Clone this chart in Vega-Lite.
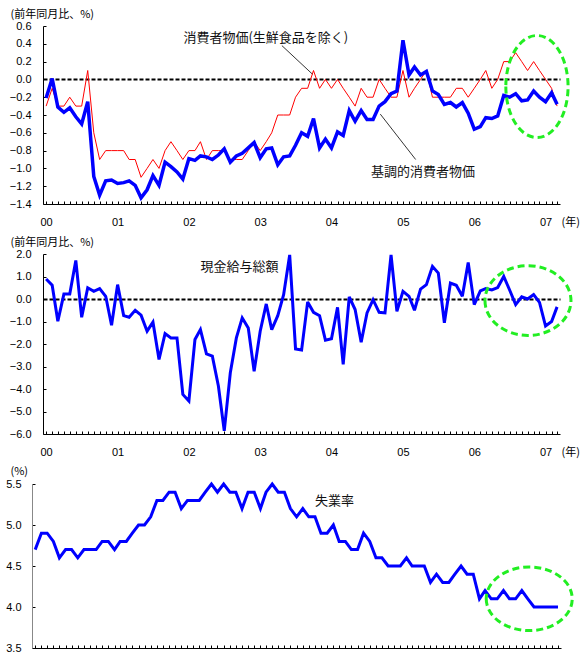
{
  "$schema": "https://vega.github.io/schema/vega-lite/v6.json",
  "background": "white",
  "padding": {"left": 5, "top": 8, "right": 0, "bottom": 0},
  "spacing": 50,
  "bounds": "flush",
  "config": {
    "view": {"stroke": null},
    "axis": {
      "labelFont": "Liberation Sans", "labelFontSize": 11, "labelColor": "#000",
      "domainColor": "#000", "domainWidth": 1, "tickColor": "#000", "tickWidth": 1,
      "titleFont": "Noto Sans CJK JP", "titleFontSize": 11, "titleFontWeight": "normal", "titleColor": "#000",
      "grid": false
    }
  },
  "datasets": {
    "monthly": [
      {"date": "2000-01-01", "core": -0.3, "trend": -0.21, "wage": 0.89, "unemp": 4.7},
      {"date": "2000-02-01", "core": -0.1, "trend": 0.01, "wage": 0.61, "unemp": 4.9},
      {"date": "2000-03-01", "core": -0.3, "trend": -0.31, "wage": -0.99, "unemp": 4.9},
      {"date": "2000-04-01", "core": -0.3, "trend": -0.37, "wage": 0.22, "unemp": 4.8},
      {"date": "2000-05-01", "core": -0.2, "trend": -0.32, "wage": 0.22, "unemp": 4.6},
      {"date": "2000-06-01", "core": -0.3, "trend": -0.42, "wage": 1.71, "unemp": 4.7},
      {"date": "2000-07-01", "core": -0.3, "trend": -0.5, "wage": -0.81, "unemp": 4.7},
      {"date": "2000-08-01", "core": 0.1, "trend": -0.25, "wage": 0.5, "unemp": 4.6},
      {"date": "2000-09-01", "core": -0.6, "trend": -1.09, "wage": 0.34, "unemp": 4.7},
      {"date": "2000-10-01", "core": -0.9, "trend": -1.3, "wage": 0.46, "unemp": 4.7},
      {"date": "2000-11-01", "core": -0.8, "trend": -1.14, "wage": 0.12, "unemp": 4.7},
      {"date": "2000-12-01", "core": -0.8, "trend": -1.13, "wage": -1.17, "unemp": 4.8},
      {"date": "2001-01-01", "core": -0.8, "trend": -1.17, "wage": 0.64, "unemp": 4.8},
      {"date": "2001-02-01", "core": -0.8, "trend": -1.16, "wage": -0.74, "unemp": 4.7},
      {"date": "2001-03-01", "core": -0.9, "trend": -1.14, "wage": -0.81, "unemp": 4.8},
      {"date": "2001-04-01", "core": -0.9, "trend": -1.19, "wage": -0.5, "unemp": 4.8},
      {"date": "2001-05-01", "core": -1.1, "trend": -1.33, "wage": -0.72, "unemp": 4.9},
      {"date": "2001-06-01", "core": -1.0, "trend": -1.24, "wage": -1.43, "unemp": 5.0},
      {"date": "2001-07-01", "core": -0.9, "trend": -1.08, "wage": -1.03, "unemp": 5.0},
      {"date": "2001-08-01", "core": -1.0, "trend": -1.19, "wage": -2.69, "unemp": 5.1},
      {"date": "2001-09-01", "core": -0.8, "trend": -0.93, "wage": -1.54, "unemp": 5.3},
      {"date": "2001-10-01", "core": -0.7, "trend": -0.98, "wage": -1.73, "unemp": 5.3},
      {"date": "2001-11-01", "core": -0.8, "trend": -1.04, "wage": -1.73, "unemp": 5.4},
      {"date": "2001-12-01", "core": -0.9, "trend": -1.12, "wage": -4.24, "unemp": 5.4},
      {"date": "2002-01-01", "core": -0.8, "trend": -0.89, "wage": -4.53, "unemp": 5.2},
      {"date": "2002-02-01", "core": -0.8, "trend": -0.91, "wage": -1.8, "unemp": 5.3},
      {"date": "2002-03-01", "core": -0.7, "trend": -0.86, "wage": -1.36, "unemp": 5.3},
      {"date": "2002-04-01", "core": -0.9, "trend": -0.87, "wage": -2.44, "unemp": 5.3},
      {"date": "2002-05-01", "core": -0.8, "trend": -0.9, "wage": -2.54, "unemp": 5.4},
      {"date": "2002-06-01", "core": -0.8, "trend": -0.85, "wage": -3.87, "unemp": 5.5},
      {"date": "2002-07-01", "core": -0.8, "trend": -0.78, "wage": -5.86, "unemp": 5.4},
      {"date": "2002-08-01", "core": -0.9, "trend": -0.93, "wage": -3.28, "unemp": 5.5},
      {"date": "2002-09-01", "core": -0.9, "trend": -0.86, "wage": -1.73, "unemp": 5.4},
      {"date": "2002-10-01", "core": -0.9, "trend": -0.83, "wage": -0.84, "unemp": 5.4},
      {"date": "2002-11-01", "core": -0.8, "trend": -0.77, "wage": -1.29, "unemp": 5.2},
      {"date": "2002-12-01", "core": -0.7, "trend": -0.71, "wage": -3.21, "unemp": 5.4},
      {"date": "2003-01-01", "core": -0.8, "trend": -0.88, "wage": -1.43, "unemp": 5.4},
      {"date": "2003-02-01", "core": -0.7, "trend": -0.78, "wage": -0.22, "unemp": 5.2},
      {"date": "2003-03-01", "core": -0.6, "trend": -0.77, "wage": -1.36, "unemp": 5.4},
      {"date": "2003-04-01", "core": -0.4, "trend": -0.96, "wage": -0.74, "unemp": 5.5},
      {"date": "2003-05-01", "core": -0.4, "trend": -0.87, "wage": 0.19, "unemp": 5.4},
      {"date": "2003-06-01", "core": -0.4, "trend": -0.86, "wage": 1.96, "unemp": 5.4},
      {"date": "2003-07-01", "core": -0.2, "trend": -0.74, "wage": -2.22, "unemp": 5.2},
      {"date": "2003-08-01", "core": -0.1, "trend": -0.6, "wage": -2.27, "unemp": 5.1},
      {"date": "2003-09-01", "core": -0.1, "trend": -0.64, "wage": -0.13, "unemp": 5.2},
      {"date": "2003-10-01", "core": 0.1, "trend": -0.44, "wage": -0.59, "unemp": 5.1},
      {"date": "2003-11-01", "core": -0.1, "trend": -0.77, "wage": -0.74, "unemp": 5.1},
      {"date": "2003-12-01", "core": 0.0, "trend": -0.67, "wage": -1.83, "unemp": 4.9},
      {"date": "2004-01-01", "core": -0.1, "trend": -0.77, "wage": -1.77, "unemp": 4.9},
      {"date": "2004-02-01", "core": 0.0, "trend": -0.59, "wage": -0.37, "unemp": 5.0},
      {"date": "2004-03-01", "core": -0.1, "trend": -0.63, "wage": -2.91, "unemp": 4.8},
      {"date": "2004-04-01", "core": -0.2, "trend": -0.35, "wage": 0.09, "unemp": 4.8},
      {"date": "2004-05-01", "core": -0.3, "trend": -0.47, "wage": -0.47, "unemp": 4.7},
      {"date": "2004-06-01", "core": -0.1, "trend": -0.35, "wage": -1.92, "unemp": 4.7},
      {"date": "2004-07-01", "core": -0.2, "trend": -0.45, "wage": -0.62, "unemp": 4.9},
      {"date": "2004-08-01", "core": -0.2, "trend": -0.45, "wage": -0.03, "unemp": 4.8},
      {"date": "2004-09-01", "core": 0.0, "trend": -0.3, "wage": -0.59, "unemp": 4.6},
      {"date": "2004-10-01", "core": -0.1, "trend": -0.25, "wage": -0.62, "unemp": 4.6},
      {"date": "2004-11-01", "core": -0.2, "trend": -0.16, "wage": 1.96, "unemp": 4.5},
      {"date": "2004-12-01", "core": -0.2, "trend": -0.13, "wage": -0.55, "unemp": 4.5},
      {"date": "2005-01-01", "core": 0.1, "trend": 0.44, "wage": 0.34, "unemp": 4.5},
      {"date": "2005-02-01", "core": -0.2, "trend": 0.05, "wage": 0.12, "unemp": 4.6},
      {"date": "2005-03-01", "core": -0.1, "trend": 0.14, "wage": -0.5, "unemp": 4.5},
      {"date": "2005-04-01", "core": 0.0, "trend": 0.05, "wage": 0.44, "unemp": 4.5},
      {"date": "2005-05-01", "core": 0.1, "trend": 0.09, "wage": 0.64, "unemp": 4.5},
      {"date": "2005-06-01", "core": -0.2, "trend": -0.13, "wage": 1.45, "unemp": 4.3},
      {"date": "2005-07-01", "core": -0.2, "trend": -0.17, "wage": 1.15, "unemp": 4.4},
      {"date": "2005-08-01", "core": -0.2, "trend": -0.28, "wage": -1.06, "unemp": 4.3},
      {"date": "2005-09-01", "core": -0.2, "trend": -0.26, "wage": 0.71, "unemp": 4.3},
      {"date": "2005-10-01", "core": -0.1, "trend": -0.31, "wage": 0.61, "unemp": 4.4},
      {"date": "2005-11-01", "core": -0.1, "trend": -0.26, "wage": 0.12, "unemp": 4.5},
      {"date": "2005-12-01", "core": -0.2, "trend": -0.38, "wage": 1.62, "unemp": 4.4},
      {"date": "2006-01-01", "core": -0.1, "trend": -0.56, "wage": -0.25, "unemp": 4.4},
      {"date": "2006-02-01", "core": 0.0, "trend": -0.53, "wage": 0.36, "unemp": 4.1},
      {"date": "2006-03-01", "core": 0.1, "trend": -0.43, "wage": 0.46, "unemp": 4.2},
      {"date": "2006-04-01", "core": -0.1, "trend": -0.44, "wage": 0.4, "unemp": 4.1},
      {"date": "2006-05-01", "core": 0.0, "trend": -0.41, "wage": 0.51, "unemp": 4.1},
      {"date": "2006-06-01", "core": 0.2, "trend": -0.18, "wage": 1.0, "unemp": 4.2},
      {"date": "2006-07-01", "core": 0.2, "trend": -0.2, "wage": 0.4, "unemp": 4.1},
      {"date": "2006-08-01", "core": 0.3, "trend": -0.16, "wage": -0.25, "unemp": 4.1},
      {"date": "2006-09-01", "core": 0.2, "trend": -0.24, "wage": 0.1, "unemp": 4.2},
      {"date": "2006-10-01", "core": 0.1, "trend": -0.23, "wage": 0.0, "unemp": 4.1},
      {"date": "2006-11-01", "core": 0.2, "trend": -0.13, "wage": 0.2, "unemp": 4.0},
      {"date": "2006-12-01", "core": 0.1, "trend": -0.2, "wage": -0.15, "unemp": 4.0},
      {"date": "2007-01-01", "core": 0.0, "trend": -0.25, "wage": -1.2, "unemp": 4.0},
      {"date": "2007-02-01", "core": -0.1, "trend": -0.15, "wage": -1.0, "unemp": 4.0},
      {"date": "2007-03-01", "core": -0.3, "trend": -0.28, "wage": -0.35, "unemp": 4.0}
    ]
  },
  "vconcat": [
    {
      "width": 517,
      "height": 178,
      "layer": [
        {
          "data": {"name": "monthly"},
          "mark": {"type": "line", "color": "#ff0000", "strokeWidth": 1},
          "encoding": {
            "x": {"field": "date", "type": "temporal", "scale": {"type": "utc", "domain": [{"year": 1999, "month": 12, "date": 16, "utc": true}, {"year": 2007, "month": 3, "date": 16, "utc": true}]},
              "axis": {"tickCount": {"interval": "month", "step": 1}, "labelExpr": "utcmonth(datum.value)==0 ? utcFormat(datum.value,'%y') : ''", "labelOverlap": false, "labelFlush": false, "labelAlign": "center", "labelBaseline": "top", "labelPadding": 15, "tickSize": -3, "title": "(年)", "titleX": 518, "titleY": 12, "titleAlign": "left", "titleBaseline": "top"}},
            "y": {"field": "core", "type": "quantitative", "scale": {"domain": [-1.4, 0.6], "nice": false, "zero": false},
              "axis": {"values": [-1.4, -1.2, -1, -0.8, -0.6, -0.4, -0.2, 0, 0.2, 0.4, 0.6], "tickCount": 30, "labelOverlap": false, "format": ".1f", "labelPadding": 15, "tickSize": -3,
                "grid": true, "gridColor": "#000", "gridWidth": 2, "gridDash": [4, 2], "gridOpacity": {"condition": {"test": "datum.value === 0", "value": 1}, "value": 0},
                "title": "(前年同月比、%)", "titleAngle": 0, "titleAlign": "left", "titleBaseline": "middle", "titleX": -33, "titleY": -12}}
          }
        },
        {
          "data": {"name": "monthly"},
          "mark": {"type": "line", "color": "#0000ff", "strokeWidth": 3.5, "strokeMiterLimit": 3},
          "encoding": {
            "x": {"field": "date", "type": "temporal"},
            "y": {"field": "trend", "type": "quantitative"}
          }
        },
        {
          "data": {"values": [
            {"text": "消費者物価(生鮮食品を除く)", "date": "2001-12-04", "value": 0.46},
            {"text": "基調的消費者物価", "date": "2004-07-21", "value": -1.035}
          ]},
          "mark": {"type": "text", "align": "left", "baseline": "middle", "font": "Noto Sans CJK JP", "fontSize": 13, "color": "#111"},
          "encoding": {
            "x": {"field": "date", "type": "temporal"},
            "y": {"field": "value", "type": "quantitative"},
            "text": {"field": "text"}
          }
        },
        {
          "data": {"values": [
            {"date": "2003-04-22", "value": 0.38, "date2": "2003-09-25", "value2": 0.06},
            {"date": "2004-09-07", "value": -0.39, "date2": "2005-03-07", "value2": -0.9}
          ], "format": {"parse": {"date": "date", "date2": "date"}}},
          "mark": {"type": "rule", "color": "#000", "strokeWidth": 0.8},
          "encoding": {
            "x": {"field": "date", "type": "temporal"},
            "x2": {"field": "date2"},
            "y": {"field": "value", "type": "quantitative"},
            "y2": {"field": "value2"}
          }
        },
        {
          "data": {"values": [{"date": "2006-11-18", "value": -0.08}]},
          "mark": {"type": "point", "shape": "M -0.61 0 A 0.61 1 0 1 0 0.61 0 A 0.61 1 0 1 0 -0.61 0 Z", "size": 10404, "filled": false, "stroke": "#22ee22", "strokeWidth": 3, "strokeDash": [7, 4], "opacity": 1},
          "encoding": {
            "x": {"field": "date", "type": "temporal"},
            "y": {"field": "value", "type": "quantitative"}
          }
        }
      ]
    },
    {
      "width": 517,
      "height": 180,
      "layer": [
        {
          "data": {"name": "monthly"},
          "mark": {"type": "line", "color": "#0000ff", "strokeWidth": 3, "strokeMiterLimit": 3},
          "encoding": {
            "x": {"field": "date", "type": "temporal", "scale": {"type": "utc", "domain": [{"year": 1999, "month": 12, "date": 16, "utc": true}, {"year": 2007, "month": 3, "date": 16, "utc": true}]},
              "axis": {"tickCount": {"interval": "month", "step": 1}, "labelExpr": "utcmonth(datum.value)==0 ? utcFormat(datum.value,'%y') : ''", "labelOverlap": false, "labelFlush": false, "labelAlign": "center", "labelBaseline": "top", "labelPadding": 15, "tickSize": -3, "title": "(年)", "titleX": 518, "titleY": 12, "titleAlign": "left", "titleBaseline": "top"}},
            "y": {"field": "wage", "type": "quantitative", "scale": {"domain": [-6, 2], "nice": false, "zero": false},
              "axis": {"values": [-6, -5, -4, -3, -2, -1, 0, 1, 2], "tickCount": 30, "labelOverlap": false, "format": ".1f", "labelPadding": 15, "tickSize": -3,
                "grid": true, "gridColor": "#000", "gridWidth": 2, "gridDash": [4, 2], "gridOpacity": {"condition": {"test": "datum.value === 0", "value": 1}, "value": 0},
                "title": "(前年同月比、%)", "titleAngle": 0, "titleAlign": "left", "titleBaseline": "middle", "titleX": -33, "titleY": -12}}
          }
        },
        {
          "data": {"values": [{"text": "現金給与総額", "date": "2002-03-01", "value": 1.44}]},
          "mark": {"type": "text", "align": "left", "baseline": "middle", "font": "Noto Sans CJK JP", "fontSize": 13, "color": "#111"},
          "encoding": {
            "x": {"field": "date", "type": "temporal"},
            "y": {"field": "value", "type": "quantitative"},
            "text": {"field": "text"}
          }
        },
        {
          "data": {"values": [{"date": "2006-10-03", "value": -0.07}]},
          "mark": {"type": "point", "shape": "M -1 0 A 1 0.81 0 1 0 1 0 A 1 0.81 0 1 0 -1 0 Z", "size": 7396, "filled": false, "stroke": "#22ee22", "strokeWidth": 3, "strokeDash": [7, 4], "opacity": 1},
          "encoding": {
            "x": {"field": "date", "type": "temporal"},
            "y": {"field": "value", "type": "quantitative"}
          }
        }
      ]
    },
    {
      "width": 517,
      "height": 164,
      "layer": [
        {
          "data": {"name": "monthly"},
          "mark": {"type": "line", "color": "#0000ff", "strokeWidth": 3, "strokeMiterLimit": 3},
          "encoding": {
            "x": {"field": "date", "type": "temporal", "scale": {"type": "utc", "domain": [{"year": 1999, "month": 12, "date": 16, "utc": true}, {"year": 2007, "month": 3, "date": 16, "utc": true}], "range": [-11, 518]},
              "axis": {"tickCount": {"interval": "month", "step": 1}, "labels": false, "tickSize": -3, "title": null}},
            "y": {"field": "unemp", "type": "quantitative", "scale": {"domain": [3.5, 5.5], "nice": false, "zero": false},
              "axis": {"values": [3.5, 4, 4.5, 5, 5.5], "tickCount": 30, "labelOverlap": false, "format": ".1f", "labelPadding": 14, "tickSize": -3, "offset": 11, "domainColor": "#888", "title": "(%)", "titleAngle": 0, "titleAlign": "left", "titleBaseline": "middle", "titleX": -22, "titleY": -13}}
          }
        },
        {
          "data": {"values": [{"text": "失業率", "date": "2003-11-01", "value": 5.29}]},
          "mark": {"type": "text", "align": "left", "baseline": "middle", "font": "Noto Sans CJK JP", "fontSize": 13, "color": "#111"},
          "encoding": {
            "x": {"field": "date", "type": "temporal"},
            "y": {"field": "value", "type": "quantitative"},
            "text": {"field": "text"}
          }
        },
        {
          "data": {"values": [{"date": "2006-10-08", "value": 4.1}]},
          "mark": {"type": "point", "shape": "M -1 0 A 1 0.74 0 1 0 1 0 A 1 0.74 0 1 0 -1 0 Z", "size": 7396, "filled": false, "stroke": "#22ee22", "strokeWidth": 3, "strokeDash": [7, 4], "opacity": 1},
          "encoding": {
            "x": {"field": "date", "type": "temporal"},
            "y": {"field": "value", "type": "quantitative"}
          }
        }
      ]
    }
  ]
}
